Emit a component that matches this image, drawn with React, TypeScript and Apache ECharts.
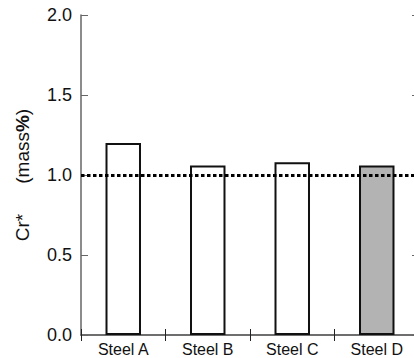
import React, { useEffect, useRef } from "react";
import * as echarts from "echarts";

const categories = ["Steel A", "Steel B", "Steel C", "Steel D"];
const crValues = [1.2, 1.06, 1.08, 1.06];
const barFills = ["#ffffff", "#ffffff", "#ffffff", "#b3b3b3"];
const referenceLevel = 1.0;
const yTicks = { min: 0, max: 2, interval: 0.5 };

const FONT = "'Liberation Sans', Arial, Helvetica, sans-serif";

export default function App() {
  const ref = useRef<HTMLDivElement>(null);
  useEffect(() => {
    if (!ref.current) return;
    const chart = echarts.init(ref.current, undefined, { renderer: "svg" });
    const axisLine = { show: true, lineStyle: { color: "#666", width: 1.5 } };
    const tickStyle = { color: "#222", width: 1 };
    chart.setOption({
      animation: false,
      grid: {
        left: 81,
        top: 15,
        width: 338,
        height: 320,
        containLabel: false,
        outerBoundsMode: "none",
      },
      xAxis: [
        {
          type: "category",
          data: categories,
          position: "bottom",
          axisLine,
          axisTick: { show: true, inside: true, length: 6, lineStyle: tickStyle },
          axisLabel: {
            color: "#111",
            fontSize: 16,
            lineHeight: 16,
            fontFamily: FONT,
            margin: 6,
          },
          splitLine: { show: false },
        },
        {
          type: "category",
          data: categories,
          position: "top",
          axisLine,
          axisTick: { show: true, inside: true, length: 6, lineStyle: tickStyle },
          axisLabel: { show: false },
          splitLine: { show: false },
        },
      ],
      yAxis: [
        {
          type: "value",
          min: yTicks.min,
          max: yTicks.max,
          interval: yTicks.interval,
          position: "left",
          axisLine,
          axisTick: { show: true, inside: true, length: 7, lineStyle: { color: "#666", width: 1 } },
          axisLabel: {
            color: "#111",
            fontSize: 18,
            fontFamily: FONT,
            margin: 9,
            formatter: (v: number) => v.toFixed(1),
          },
          splitLine: { show: false },
          name: "{a|Cr*}{gap|}{b|(mass}{c|%}{b|)}",
          nameLocation: "middle",
          nameRotate: 90,
          nameGap: 49,
          nameTextStyle: {
            color: "#111111",
            fontFamily: FONT,
            fontSize: 19,
            rich: {
              a: { fontSize: 19, fontFamily: FONT, color: "#111111" },
              gap: { width: 30, fontSize: 19 },
              b: { fontSize: 19, fontFamily: FONT, color: "#111111" },
              c: { fontSize: 19, fontFamily: FONT, fontWeight: "bold", color: "#111111" },
            },
          },
        },
        {
          type: "value",
          min: yTicks.min,
          max: yTicks.max,
          interval: yTicks.interval,
          position: "right",
          axisLine,
          axisTick: { show: true, inside: true, length: 7, lineStyle: { color: "#666", width: 1 } },
          axisLabel: { show: false },
          splitLine: { show: false },
        },
      ],
      series: [
        {
          type: "bar",
          data: crValues.map((v, i) => ({
            value: v,
            itemStyle: { color: barFills[i], borderColor: "#111", borderWidth: 2 },
          })),
          barWidth: "42%",
          markLine: {
            silent: true,
            symbol: "none",
            label: { show: false },
            lineStyle: { color: "#000", width: 3, type: [3.5, 2.5], cap: "butt" },
            data: [{ yAxis: referenceLevel }],
          },
        },
      ],
    });
    return () => chart.dispose();
  }, []);
  return <div ref={ref} style={{ width: 414, height: 358, position: "absolute", left: 0, top: 0 }} />;
}
